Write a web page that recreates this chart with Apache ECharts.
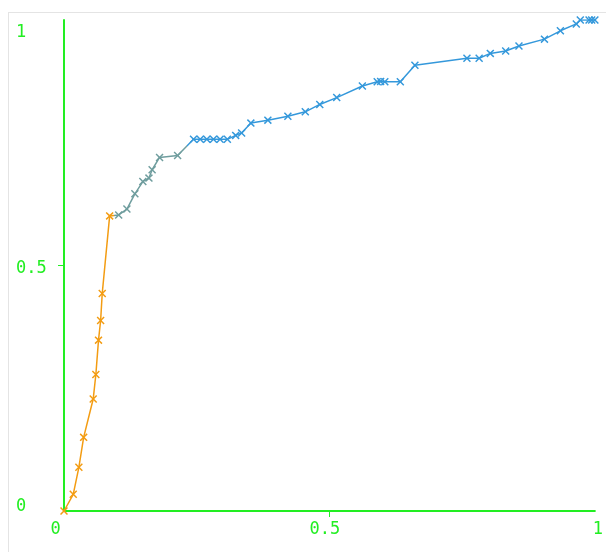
<!DOCTYPE html>
<html>
<head>
<meta charset="utf-8">
<script src="https://cdn.jsdelivr.net/npm/echarts@6/dist/echarts.min.js"></script>
<style>
  html, body { margin: 0; padding: 0; background: #fff; }
  #frame { position: absolute; left: 8px; top: 12px; width: 800px; height: 800px; border: 1px solid #e4e4e4; box-sizing: border-box; }
  #chart { position: absolute; left: 0; top: 0; width: 606px; height: 552px; }
</style>
</head>
<body>
<div id="frame"></div>
<div id="chart"></div>
<script>
// False positive rate (x) and true positive rate (y) of the curve
const fpr = [0, 0.0174, 0.028, 0.037, 0.055, 0.060, 0.065, 0.069, 0.072, 0.086,
  0.103, 0.1185, 0.1335, 0.1485, 0.160, 0.166, 0.180, 0.214,
  0.244, 0.2566, 0.269, 0.2815, 0.294, 0.3077, 0.3234, 0.3346, 0.352, 0.384,
  0.4217, 0.4545, 0.4818, 0.5137, 0.562, 0.590, 0.5964, 0.6043, 0.6335, 0.661,
  0.759, 0.782, 0.803, 0.832, 0.857, 0.905, 0.935, 0.965, 0.9725, 0.989, 0.994, 1];
const tpr = [0, 0.034, 0.089, 0.150, 0.228, 0.278, 0.348, 0.388, 0.443, 0.601,
  0.603, 0.615, 0.646, 0.671, 0.678, 0.695, 0.720, 0.724,
  0.757, 0.757, 0.757, 0.757, 0.757, 0.757, 0.765, 0.770, 0.790, 0.796,
  0.804, 0.813, 0.828, 0.842, 0.8656, 0.8744, 0.875, 0.8744, 0.8744, 0.908,
  0.922, 0.922, 0.932, 0.937, 0.947, 0.961, 0.978, 0.992, 1, 1, 1, 1];
// Colour bands along x
const bandLimits = [0.095, 0.232];
// Tick labels
const xTickValues = [0, 0.5, 1];
const xTickLabels = ['0', '0.5', '1'];
const yTickValues = [0, 0.5, 1];
const yTickLabels = ['0', '0.5', '1'];

const GREEN = '#22ee22';
const FONT = 'DejaVu Sans Mono';
const points = fpr.map((x, i) => [x, tpr[i]]);
const crossPath = 'path://M0,1.3L1.3,0L5,3.7L8.7,0L10,1.3L6.3,5L10,8.7L8.7,10L5,6.3L1.3,10L0,8.7L3.7,5Z';

const xKeys = ['xa', 'xb', 'xc'];
const yKeys = ['ya', 'yb', 'yc'];
const xRich = {
  xa: { padding: [0, 17, 0, 0], color: GREEN, fontFamily: FONT, fontSize: 17 },
  xb: { padding: [0, 9, 0, 0], color: GREEN, fontFamily: FONT, fontSize: 17 },
  xc: { padding: [0, 0, 0, 6], color: GREEN, fontFamily: FONT, fontSize: 17 }
};
const yRich = {
  ya: { padding: [0, 0, 9, 0], color: GREEN, fontFamily: FONT, fontSize: 17 },
  yb: { padding: [6, 0, 0, 0], color: GREEN, fontFamily: FONT, fontSize: 17 },
  yc: { padding: [26, 0, 0, 0], color: GREEN, fontFamily: FONT, fontSize: 17 }
};

const chart = echarts.init(document.getElementById('chart'), null, { renderer: 'canvas' });
chart.setOption({
  animation: false,
  backgroundColor: 'transparent',
  grid: { left: 64, right: 8, top: 20, bottom: 41 },
  xAxis: {
    type: 'value', min: 0, max: 1, interval: 0.5,
    splitLine: { show: false },
    axisLine: { show: true, lineStyle: { color: GREEN, width: 2 } },
    axisTick: { show: true, length: 6, customValues: [0.5], lineStyle: { color: GREEN, width: 1 } },
    axisLabel: {
      showMinLabel: true, showMaxLabel: true, margin: 10,
      color: GREEN, fontFamily: FONT, fontSize: 17,
      formatter: function (v) {
        const i = xTickValues.indexOf(v);
        return i < 0 ? '' : '{' + xKeys[i] + '|' + xTickLabels[i] + '}';
      },
      rich: xRich
    }
  },
  yAxis: {
    type: 'value', min: 0, max: 1, interval: 0.5,
    splitLine: { show: false },
    axisLine: { show: true, lineStyle: { color: GREEN, width: 2 } },
    axisTick: { show: true, length: 6, customValues: [0.5], lineStyle: { color: GREEN, width: 1 } },
    axisLabel: {
      showMinLabel: true, showMaxLabel: true, margin: 48, align: 'left',
      color: GREEN, fontFamily: FONT, fontSize: 17,
      formatter: function (v) {
        const i = yTickValues.indexOf(v);
        return i < 0 ? '' : '{' + yKeys[i] + '|' + yTickLabels[i] + '}';
      },
      rich: yRich
    }
  },
  visualMap: {
    type: 'piecewise', show: false, dimension: 0, seriesIndex: 0,
    pieces: [
      { lte: bandLimits[0], color: '#f39c12' },
      { gt: bandLimits[0], lte: bandLimits[1], color: '#6f9d9e' },
      { gt: bandLimits[1], color: '#3498db' }
    ]
  },
  series: [{
    type: 'line',
    data: points,
    symbol: crossPath,
    symbolSize: 8,
    showSymbol: true,
    lineStyle: { width: 1.5 },
    emphasis: { disabled: true }
  }]
});
</script>
</body>
</html>
